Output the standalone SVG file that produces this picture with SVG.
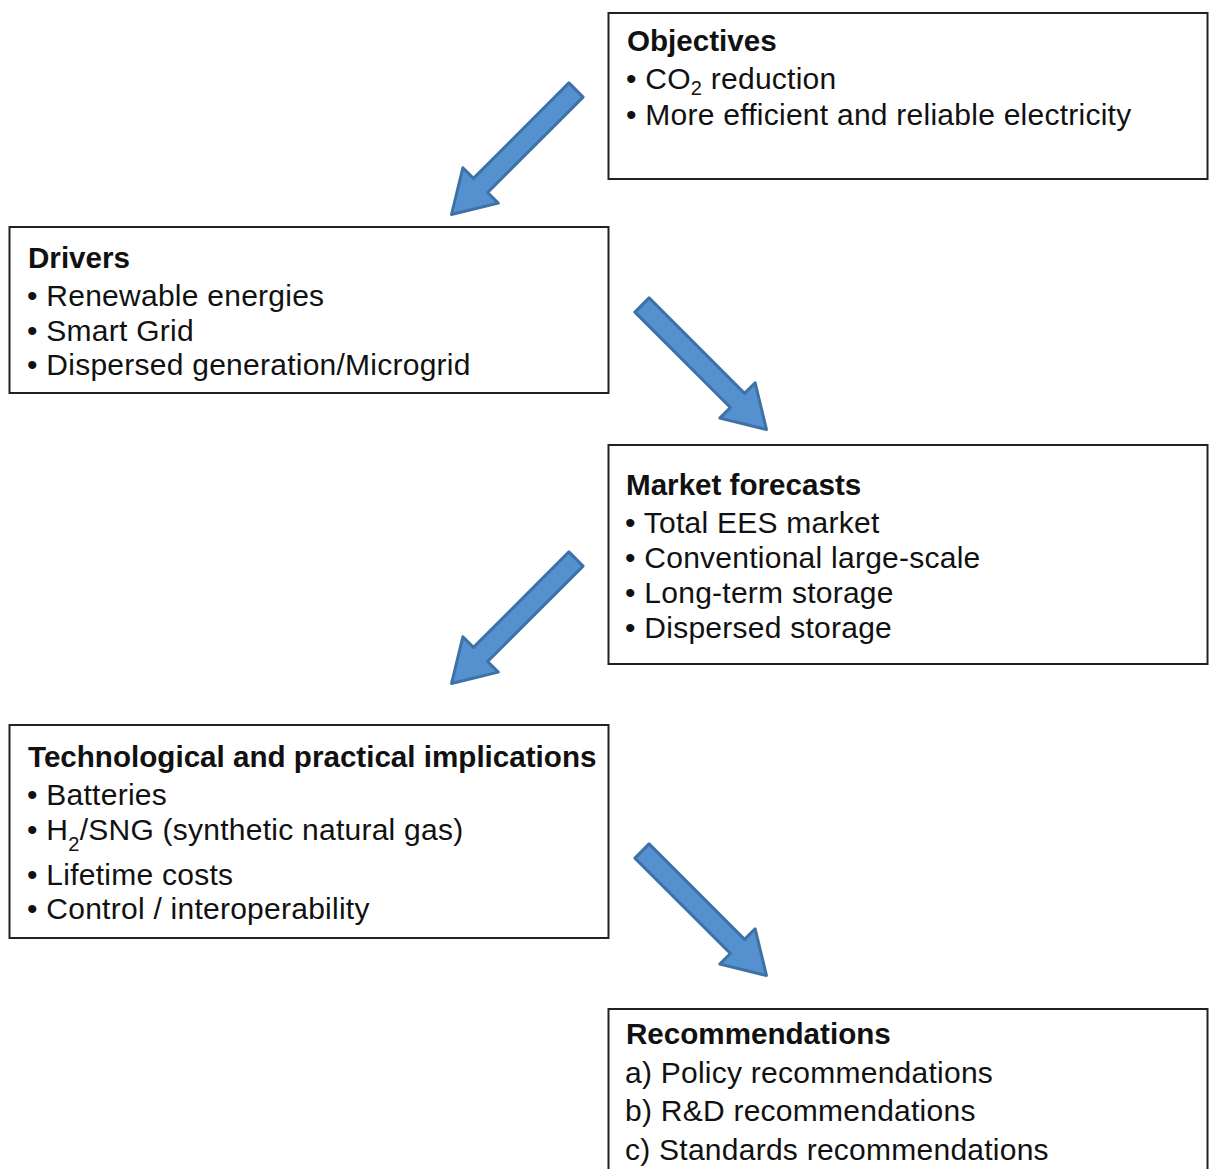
<svg xmlns="http://www.w3.org/2000/svg" width="1210" height="1169" viewBox="0 0 1210 1169">
<defs>
<style>
.box{fill:#fff;stroke:#222;stroke-width:2}
.t{font-family:"Liberation Sans",Arial,sans-serif;font-size:30px;fill:#111;letter-spacing:0.25px}
.b{font-weight:bold;font-size:29.6px;letter-spacing:0}
.arr{fill:#5591CF;stroke:#3E72A6;stroke-width:3;stroke-linejoin:round}
</style>
<path id="arrowShape" class="arr" d="M0,-10 L135,-10 L135,-25 L176,0 L135,25 L135,10 L0,10 Z"/>
</defs>
<rect width="1210" height="1169" fill="#fff"/>
<g id="connectors">
<use href="#arrowShape" transform="translate(576,90) rotate(135)"/>
<use href="#arrowShape" transform="translate(642,305) rotate(45)"/>
<use href="#arrowShape" transform="translate(576,559) rotate(135)"/>
<use href="#arrowShape" transform="translate(642,851) rotate(45)"/>
</g>
<g id="objectives">
<rect class="box" x="608.5" y="13" width="599" height="166"/>
<text class="t b" x="627" y="51">Objectives</text>
<text class="t" x="626" y="89">• CO<tspan font-size="20" dy="6">2</tspan><tspan dy="-6"> reduction</tspan></text>
<text class="t" x="626" y="125">• More efficient and reliable electricity</text>
</g>
<g id="drivers">
<rect class="box" x="9.5" y="227" width="599" height="166"/>
<text class="t b" x="28" y="268">Drivers</text>
<text class="t" x="27" y="306">• Renewable energies</text>
<text class="t" x="27" y="341">• Smart Grid</text>
<text class="t" x="27" y="375">• Dispersed generation/Microgrid</text>
</g>
<g id="market">
<rect class="box" x="608.5" y="445" width="599" height="219"/>
<text class="t b" x="626" y="495">Market forecasts</text>
<text class="t" x="625" y="533">• Total EES market</text>
<text class="t" x="625" y="568">• Conventional large-scale</text>
<text class="t" x="625" y="603">• Long-term storage</text>
<text class="t" x="625" y="638">• Dispersed storage</text>
</g>
<g id="implications">
<rect class="box" x="9.5" y="725" width="599" height="213"/>
<text class="t b" x="28" y="767">Technological and practical implications</text>
<text class="t" x="27" y="805">• Batteries</text>
<text class="t" x="27" y="840">• H<tspan font-size="20" dy="11">2</tspan><tspan dy="-11">/SNG (synthetic natural gas)</tspan></text>
<text class="t" x="27" y="885">• Lifetime costs</text>
<text class="t" x="27" y="919">• Control / interoperability</text>
</g>
<g id="recommendations">
<rect class="box" x="608.5" y="1009" width="599" height="180"/>
<text class="t b" x="626" y="1044">Recommendations</text>
<text class="t" x="625" y="1083">a) Policy recommendations</text>
<text class="t" x="625" y="1121">b) R&amp;D recommendations</text>
<text class="t" x="625" y="1160">c) Standards recommendations</text>
</g>
</svg>
